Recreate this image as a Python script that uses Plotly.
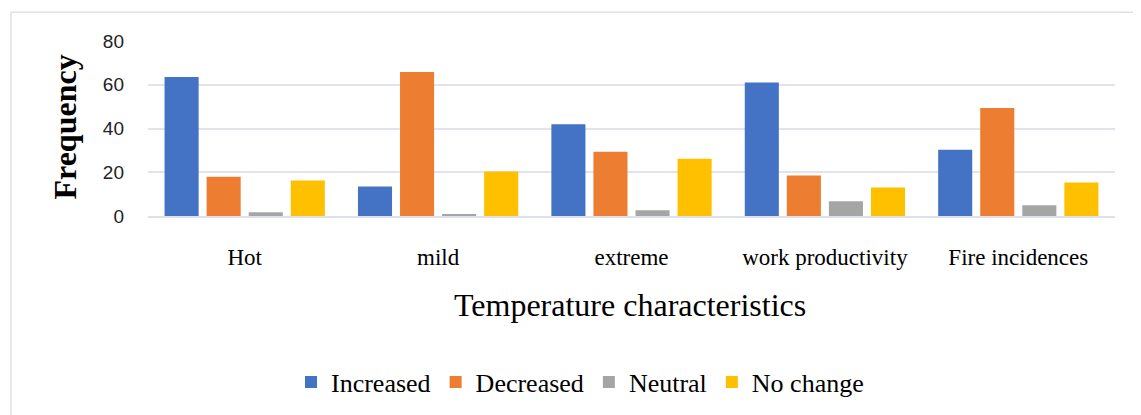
import plotly.graph_objects as go

categories = ["Hot", "mild", "extreme", "work productivity", "Fire incidences"]
increased = [63.5, 13.5, 42, 61, 30.3]
decreased = [18, 65.8, 29.4, 18.5, 49.4]
neutral = [1.7, 0.5, 2.6, 6.7, 4.9]
no_change = [16.2, 20.3, 26.2, 13, 15.3]
y_ticks = [0, 20, 40, 60, 80]

series = [
    ("Increased", increased, "#4472C4"),
    ("Decreased", decreased, "#ED7D31"),
    ("Neutral", neutral, "#A5A5A5"),
    ("No change", no_change, "#FFC000"),
]

OFF = 8  # page body margin
WIN_W, WIN_H = 1141, 415
W, H = WIN_W - OFF, WIN_H - OFF
# plot area in window pixels
PX0, PX1, PY0, PY1 = 148, 1115, 41, 217
L, T = PX0 - OFF, PY0 - OFF
R = W - (PX1 - OFF)
B = H - (PY1 - OFF)
pw, ph = PX1 - PX0, PY1 - PY0

def px(x):
    return (x - PX0) / pw

def py(y):
    return (PY1 - y) / ph

fig = go.Figure()
for name, vals, col in series:
    fig.add_trace(go.Bar(x=categories, y=vals, name=name, marker_color=col,
                         marker_line_width=0))

fig.update_layout(
    width=W, height=H,
    margin=dict(l=L, r=R, t=T, b=B, pad=0),
    paper_bgcolor="white", plot_bgcolor="white",
    barmode="group", bargap=0.13, bargroupgap=0.19,
    showlegend=True,
    legend=dict(orientation="h", x=px(580), xanchor="center", y=py(382), yanchor="middle",
                font=dict(family="Liberation Serif", size=26, color="#000"),
                itemwidth=30, tracegroupgap=0),
    xaxis=dict(showgrid=False, showline=True, linecolor="#DDE1E8", linewidth=1.5,
               ticks="", tickfont=dict(family="Liberation Serif", size=23, color="#000"),
               ticklabelstandoff=20),
    yaxis=dict(range=[0, 80], tickvals=y_ticks, showgrid=True, gridcolor="#E1E4EA",
               gridwidth=1.5, zeroline=False, showline=False, ticks="",
               tickfont=dict(family="Liberation Sans", size=19, color="#222"),
               ticklabelstandoff=23),
    annotations=[
        dict(text="Temperature characteristics", xref="paper", yref="paper",
             x=px(630), y=py(307), xanchor="center", yanchor="middle", showarrow=False,
             font=dict(family="Liberation Serif", size=32, color="#000")),
        dict(text="<b>Frequency</b>", xref="paper", yref="paper",
             x=px(65), y=py(128), xanchor="center", yanchor="middle", showarrow=False,
             textangle=-90, font=dict(family="Liberation Serif", size=32, color="#000")),
    ],
    shapes=[
        dict(type="rect", xref="paper", yref="paper",
             x0=px(11), x1=px(1160), y0=py(430), y1=py(12),
             line=dict(color="#DDE1E8", width=1.5), fillcolor="rgba(0,0,0,0)", layer="below"),
    ],
)

fig.write_html("out.html")
